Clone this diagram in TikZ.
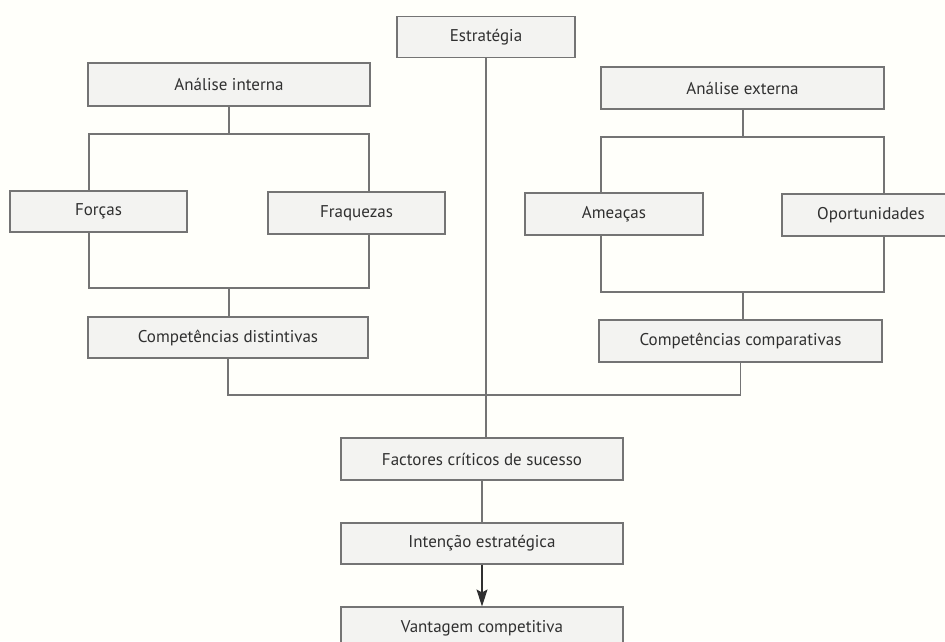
\documentclass[tikz,border=0pt]{standalone}
\usepackage{fontspec}
\setmainfont{PT Sans}
\usetikzlibrary{arrows.meta}
\definecolor{boxfill}{HTML}{F3F3F1}
\definecolor{boxline}{HTML}{747474}
\definecolor{txt}{HTML}{303030}
\tikzset{
  box/.style={draw=boxline, fill=boxfill, line width=1.1pt, rectangle,
    minimum height=41pt, inner sep=0pt, text=txt,
    font=\fontsize{17}{19}\selectfont},
  conn/.style={draw=boxline, line width=1.1pt},
}
\begin{document}
\begin{tikzpicture}[x=1pt,y=-1pt]
\useasboundingbox (0,0) rectangle (945,641);
\clip (0,0) rectangle (945,641);
\fill[white!98!yellow] (0,0) rectangle (945,641);
% nodes
\node[box, minimum width=178pt] (estr) at (486,37) {Estratégia};
\node[box, minimum width=282pt, minimum height=43pt] (ai) at (229,84.5) {Análise interna};
\node[box, minimum width=283pt, minimum height=42pt] (ae) at (742.5,88) {Análise externa};
\node[box, minimum width=177pt] (forcas) at (98.5,211.5) {Forças};
\node[box, minimum width=177pt, minimum height=42pt] (fraq) at (356.5,213) {Fraquezas};
\node[box, minimum width=178pt, minimum height=42pt] (amea) at (614,214) {Ameaças};
\node[box, minimum width=178pt, minimum height=42pt] (oport) at (871,215) {Oportunidades};
\node[box, minimum width=280pt] (cd) at (228,337.5) {Competências distintivas};
\node[box, minimum width=283pt, minimum height=42pt] (cc) at (740.5,341) {Competências comparativas};
\node[box, minimum width=282pt, minimum height=42pt] (fact) at (482,459) {Factores críticos de sucesso};
\node[box, minimum width=282pt] (int) at (482,543.5) {Intenção estratégica};
\node[box, minimum width=282pt, minimum height=42pt] (vant) at (482,628) {Vantagem competitiva};
% junction coordinates
\coordinate (iT) at (229,134);
\coordinate (iL) at (89,134);
\coordinate (iR) at (369,134);
\coordinate (iB) at (229,288);
\coordinate (eT) at (743,137);
\coordinate (eL) at (601,137);
\coordinate (eR) at (884,137);
\coordinate (eB) at (743,292);
\coordinate (bj) at (486,395);
% internal analysis
\draw[conn] (ai.south) -- (iT);
\draw[conn] (iL |- forcas.north) -- (iL) -- (iR) -- (iR |- fraq.north);
\draw[conn] (iL |- forcas.south) -- (iL |- iB) -- (iR |- iB) -- (iR |- fraq.south);
\draw[conn] (iB) -- (iB |- cd.north);
% external analysis
\draw[conn] (ae.south -| eT) -- (eT);
\draw[conn] (eL |- amea.north) -- (eL) -- (eR) -- (eR |- oport.north);
\draw[conn] (eL |- amea.south) -- (eL |- eB) -- (eR |- eB) -- (eR |- oport.south);
\draw[conn] (eB) -- (eB |- cc.north);
% strategy line
\draw[conn] (estr.south) -- (estr.south |- fact.north);
\draw[conn] (cd.south) |- (bj) -| (cc.south);
% lower chain
\draw[conn] (fact.south) -- (int.north);
\draw[conn, draw=txt, -{Stealth[length=17pt, width=11pt, inset=3pt]}] (int.south) -- (vant.north);
\end{tikzpicture}
\end{document}
